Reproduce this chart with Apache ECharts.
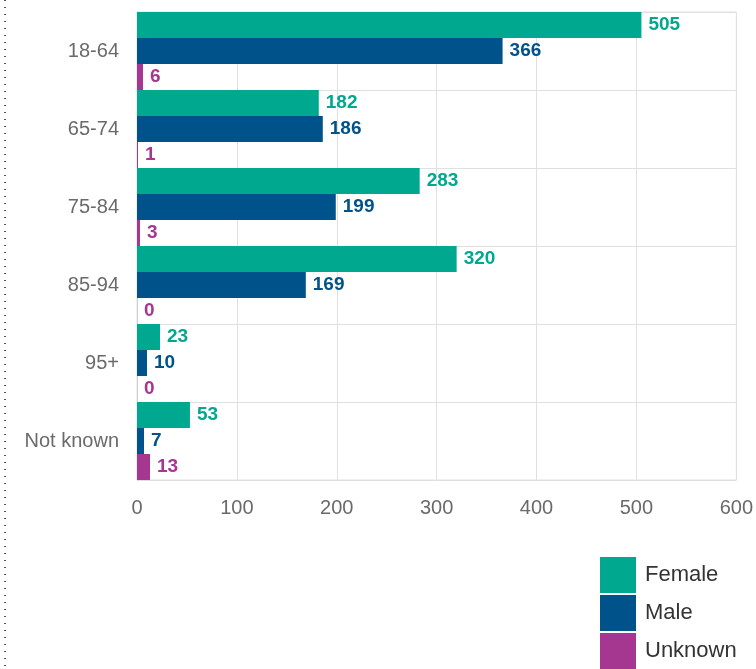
<!DOCTYPE html>
<html><head><meta charset="utf-8">
<script src="https://cdn.jsdelivr.net/npm/echarts@6/dist/echarts.min.js"></script>
<style>html,body{margin:0;padding:0;background:#fff}#c{width:756px;height:669px}</style>
</head><body><div id="c"></div>
<script>
const categories = ["18-64","65-74","75-84","85-94","95+","Not known"];
const female = [505,182,283,320,23,53];
const male = [366,186,199,169,10,7];
const unknown = [6,1,3,0,0,13];
const xTicks = [0,100,200,300,400,500,600];

const colors = {Female:'#00a88f', Male:'#00538a', Unknown:'#a53791'};
const font = '"Liberation Sans", Arial, Helvetica, sans-serif';
function mk(name, data){
  return {name, type:'bar', data, barGap:'0%', barCategoryGap:'0%',
    itemStyle:{color:colors[name]},
    label:{show:true, position:'right', distance:7, color:colors[name], fontSize:19, fontWeight:'bold', fontFamily:font}};
}
const chart = echarts.init(document.getElementById('c'));
chart.setOption({
  animation:false,
  grid:{left:137, right:18, top:12, bottom:189, containLabel:false, show:true, borderColor:'#e0e0e0', borderWidth:1},
  xAxis:{type:'value', min:xTicks[0], max:xTicks[xTicks.length-1], interval:100,
    axisLine:{show:false}, axisTick:{show:false},
    splitLine:{lineStyle:{color:'#e0e0e0'}},
    axisLabel:{color:'#6a6a6a', fontSize:20, fontFamily:font, margin:18}},
  yAxis:{type:'category', data:categories, inverse:true,
    axisLine:{show:true, lineStyle:{color:'#d0d0d0'}}, axisTick:{show:false},
    splitLine:{show:true, lineStyle:{color:'#e0e0e0'}},
    axisLabel:{color:'#6a6a6a', fontSize:20, fontFamily:font, margin:18}},
  legend:{orient:'vertical', left:600, top:557, padding:0, itemWidth:36, itemHeight:36, itemGap:2,
    icon:'rect', textStyle:{color:'#333', fontSize:22, fontFamily:font, padding:[12,0,0,4]},
    data:['Female','Male','Unknown']},
  graphic:[{type:'line', shape:{x1:5,y1:0,x2:5,y2:669}, style:{stroke:'#555', lineWidth:2, lineDash:[1,6]}}],
  series:[mk('Female',female), mk('Male',male), mk('Unknown',unknown)]
});
</script></body></html>
